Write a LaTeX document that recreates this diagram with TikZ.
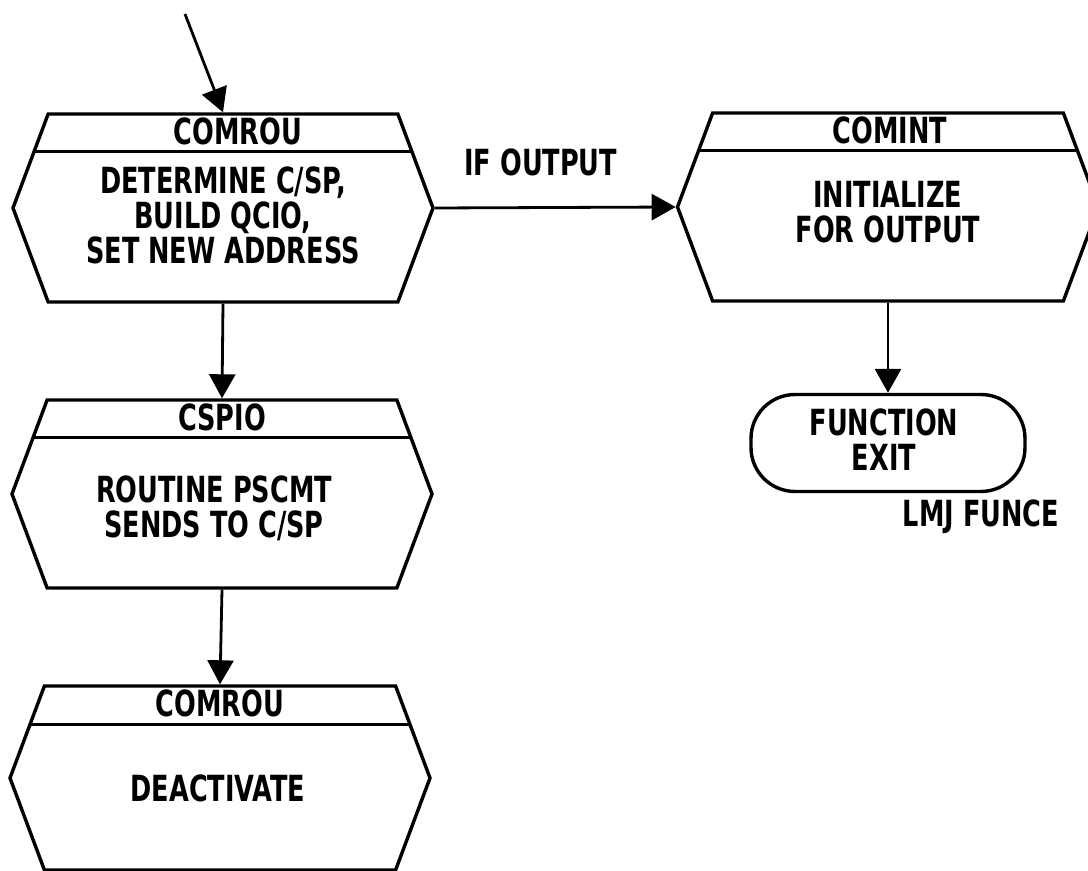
\documentclass[tikz,border=0pt]{standalone}
\usepackage{fontspec}
\newfontfamily\chartfont{DejaVu Sans Condensed Bold}[FakeStretch=0.79]
\usetikzlibrary{arrows.meta,shapes.symbols,calc}

\begin{document}
\begin{tikzpicture}[x=0.5pt,y=-0.5pt,>={Triangle[length=12pt,width=13pt]},
  flow/.style={->,line width=1.4pt},
  procbox/.style={signal,signal to=east and west,signal pointer angle=139,draw,line width=1.7pt,
    inner sep=0pt,minimum width=210pt,minimum height=94pt,
    path picture={\draw[line width=1.5pt] ([yshift=-19pt]path picture bounding box.north west) -- ([yshift=-19pt]path picture bounding box.north east);}},
  boxtext/.style={align=center,inner sep=0pt,font=\chartfont\fontsize{18pt}{17.5pt}\selectfont}]
  \clip (0,0) rectangle (1088,871);
  % process boxes
  \node[procbox] (rou1) at (223,208) {};
  \node[procbox] (cspio) at (222,494) {};
  \node[procbox,minimum height=92pt] (rou2) at (220,778) {};
  \node[procbox,minimum width=210.5pt] (comint) at (888,207) {};
  \node[draw,line width=1.7pt,rounded corners=22pt,minimum width=137pt,minimum height=48.5pt] (fexit) at (888,443) {};
  % headers and texts
  \node[boxtext] (rou1h) at ($(rou1.north)+(15,19)$) {COMROU};
  \node[boxtext] (rou1t) at ($(rou1.center)+(0,7)$) {DETERMINE C/SP,\\BUILD QCIO,\\SET NEW ADDRESS};
  \node[boxtext] (cspioh) at ($(cspio.north)+(0,19)$) {CSPIO};
  \node[boxtext] (cspiot) at ($(cspio.center)+(-8,14)$) {ROUTINE PSCMT\\SENDS TO C/SP};
  \node[boxtext] (rou2h) at ($(rou2.north)+(0,19)$) {COMROU};
  \node[boxtext] (rou2t) at ($(rou2.center)+(-2,10)$) {DEACTIVATE};
  \node[boxtext] (cominth) at ($(comint.north)+(2,19)$) {COMINT};
  \node[boxtext] (comintt) at ($(comint.center)+(0,5)$) {INITIALIZE\\FOR OUTPUT};
  \node[boxtext] (fexitt) at ($(fexit.center)+(-4,-3)$) {FUNCTION\\EXIT};
  \node[boxtext] (tag) at (981,517) {LMJ FUNCE};
  % connectors
  \coordinate (entry) at (185,14);
  \draw[flow] (entry) -- (rou1.north);
  \draw[flow] (rou1.east) -- node[boxtext,above=15pt,pos=0.44] (ifout) {IF OUTPUT} (comint.west);
  \draw[flow] (rou1.south) -- (cspio.north);
  \draw[flow] (cspio.south) -- (rou2.north);
  \draw[flow] (comint.south) -- (fexit.north);
\end{tikzpicture}
\end{document}
